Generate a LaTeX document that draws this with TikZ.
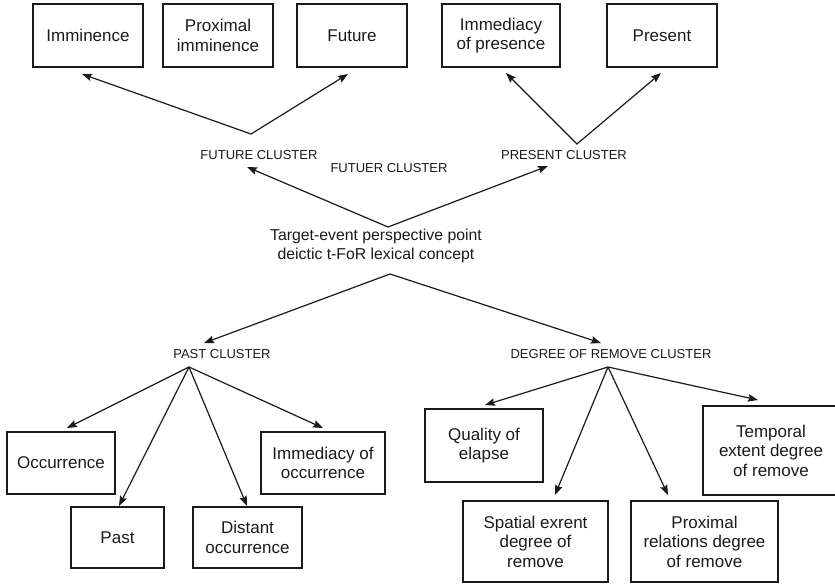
\documentclass[tikz,border=0pt]{standalone}
\usepackage{fontspec}
\setmainfont{Liberation Sans}
\usetikzlibrary{arrows.meta}
\definecolor{ink}{HTML}{1A1A1A}
\begin{document}
\begin{tikzpicture}[x=1pt,y=-1pt,
  >={Stealth[length=10pt,width=7.5pt,inset=1.5pt]},
  box/.style={draw=ink, line width=1.2pt, align=center, inner sep=0pt, text=ink,
    font=\fontsize{17}{19.5}\selectfont},
  words/.style={align=center, inner sep=0pt, text=ink, font=\fontsize{17}{19.5}\selectfont},
  tag/.style={align=center, inner sep=0pt, text=ink, font=\fontsize{13}{15}\selectfont},
  core/.style={align=center, inner sep=0pt, text=ink, font=\fontsize{15.8}{18.5}\selectfont},
  arr/.style={draw=ink, line width=1.2pt, ->},
  both/.style={draw=ink, line width=1.2pt, <->}]
\useasboundingbox (0,0) rectangle (835,584);
\clip (0,0) rectangle (835,584);

% top row: future and present members
\node[box, minimum width=110pt, minimum height=63pt] (imm)   at (88,35.5)  {Imminence};
\node[box, minimum width=110pt, minimum height=63pt] (prox)  at (218,35.5) {Proximal\\imminence};
\node[box, minimum width=110pt, minimum height=63pt] (fut)   at (352,35.5) {Future};
\node[box, minimum width=118pt, minimum height=63pt] (ipres) at (501,35.5) {Immediacy\\of presence};
\node[box, minimum width=110pt, minimum height=63pt] (pres)  at (662,35.5) {Present};

% cluster labels and the central concept
\node[tag] (fcl)   at (259,155) {FUTURE CLUSTER};
\node[tag] (fcl2)  at (389,168) {FUTUER CLUSTER};
\node[tag] (pcl)   at (564,155) {PRESENT CLUSTER};
\node[core] (target) at (376,246) {Target-event perspective point\\deictic t-FoR lexical concept};
\node[tag] (pastcl) at (222,354) {PAST CLUSTER};
\node[tag] (degcl)  at (611,354) {DEGREE OF REMOVE CLUSTER};

% bottom row: past members
\node[box, minimum width=108pt, minimum height=62pt] (occ)  at (61,463)     {Occurrence};
\node[box, minimum width=93pt,  minimum height=61pt] (past) at (117.5,537.5) {Past};
\node[box, minimum width=109pt, minimum height=61pt] (dist) at (247.5,537.5) {Distant\\occurrence};
\node[box, minimum width=124pt, minimum height=62pt] (iocc) at (323,463)    {Immediacy of\\occurrence};

% bottom row: degree-of-remove members
\node[box, minimum width=118pt, minimum height=73pt] (qual)  at (484,445.5)   {Quality of\\elapse};
\node[box, minimum width=145pt, minimum height=81pt] (spat)  at (535.5,541.5) {Spatial exrent\\degree of\\remove};
\node[box, minimum width=147pt, minimum height=81pt] (proxr) at (704.5,541.5) {Proximal\\relations degree\\of remove};
% this box runs past the right margin, so its text is set on its own
\node[box, minimum width=160pt, minimum height=89pt] (temp)  at (783,450.5) {};
\node[words] (temp-text) at (771,450.5) {Temporal\\extent degree\\of remove};

% branching points and arrow ends
\coordinate (fapex) at (251,134);
\coordinate (t-imm) at (82,74);
\coordinate (t-fut) at (348,74);
\coordinate (papex) at (577,144);
\coordinate (t-ipres) at (506,73);
\coordinate (t-pres) at (661,73);
\coordinate (tup) at (388,227);
\coordinate (t-fcl) at (247,167);
\coordinate (t-pcl) at (548,166);
\coordinate (tdown) at (390,274);
\coordinate (t-pastcl) at (204,343);
\coordinate (t-degcl) at (601,343);
\coordinate (pastapex) at (189,367);
\coordinate (t-occ) at (67,428);
\coordinate (t-past) at (119,506);
\coordinate (t-dist) at (247,506);
\coordinate (t-iocc) at (323,428);
\coordinate (degapex) at (608,367);
\coordinate (t-qual) at (485,405);
\coordinate (t-spat) at (555,495);
\coordinate (t-proxr) at (668,495);
\coordinate (t-temp) at (758,400);

% connectors
\draw[both] (t-imm) -- (fapex) -- (t-fut);
\draw[both] (t-ipres) -- (papex) -- (t-pres);
\draw[both] (t-fcl) -- (tup) -- (t-pcl);
\draw[both] (t-pastcl) -- (tdown) -- (t-degcl);
\draw[arr] (pastapex) -- (t-occ);
\draw[arr] (pastapex) -- (t-past);
\draw[arr] (pastapex) -- (t-dist);
\draw[arr] (pastapex) -- (t-iocc);
\draw[arr] (degapex) -- (t-qual);
\draw[arr] (degapex) -- (t-spat);
\draw[arr] (degapex) -- (t-proxr);
\draw[arr] (degapex) -- (t-temp);
\end{tikzpicture}
\end{document}
